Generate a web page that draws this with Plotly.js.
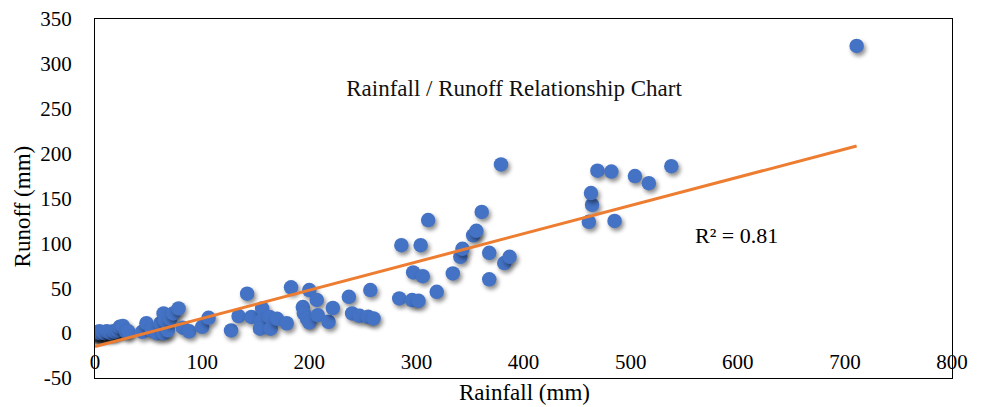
<!DOCTYPE html>
<html>
<head>
<meta charset="utf-8">
<script src="https://cdn.plot.ly/plotly-3.0.1.min.js"></script>
<style>
  html, body { margin: 0; padding: 0; background: #fff; }
  #chart { width: 984px; height: 407px; }
  #chart text { font-family: 'Liberation Serif', 'Times New Roman', serif !important; }
  #chart .scatterlayer .trace:first-child path.point {
    filter: drop-shadow(2px 3px 2px rgba(0,0,0,0.45));
  }
</style>
</head>
<body>
<div id="chart"></div>
<script>
const rainfall = [
  0, 1, 2, 3, 4, 5, 7, 9, 11, 13, 15, 17, 19, 21, 23, 26, 29, 31,
  44, 48, 53, 58, 61, 64, 64, 65, 68, 70, 73, 78, 82, 88,
  100, 106, 127, 134, 142, 146, 156, 155, 154, 163, 164, 170, 179, 183,
  194, 195, 198, 200, 200, 207, 208, 218, 222, 237, 240, 247, 255, 260, 257,
  284, 286, 296, 297, 302, 304, 306, 311, 319, 334, 341, 343, 353, 356, 361, 368, 368, 379, 382, 387,
  461, 464, 463, 469, 482, 485, 504, 517, 538, 711
];
const runoff = [
  0, -1, 1, 0, 2, 0, 1, 0, 2, 1, 0, 2, 1.5, 3, 7, 8, 1.5, 2,
  1.5, 11, 3, 0, 11, 0, 22, 14.5, 3, 16, 22, 27.5, 6, 2,
  7, 17, 3, 19, 44, 18, 27.5, 13.5, 5, 18, 5, 16, 11, 51,
  29, 22, 16, 48, 12, 37, 20, 12.6, 28, 40.5, 22, 19.3, 18.2, 16.4, 48,
  38.6, 98, 36.8, 67.6, 36, 98, 63.5, 126, 46, 66.5, 85, 94, 109, 114, 135, 89.5, 60, 188, 78, 85,
  124, 143, 156, 181, 180, 125, 175, 167, 186, 320
];
// Linear trendline endpoints
const trendX = [0, 711];
const trendY = [-15, 208.5];
const xTicks = [0, 100, 200, 300, 400, 500, 600, 700, 800];
const yTicks = [-50, 0, 50, 100, 150, 200, 250, 300, 350];

const serif = 'Times New Roman';

const traces = [
  {
    x: rainfall, y: runoff, type: 'scatter', mode: 'markers',
    marker: { color: '#4472C4', size: 14.5 },
    showlegend: false, hoverinfo: 'x+y'
  },
  {
    x: trendX, y: trendY, type: 'scatter', mode: 'lines',
    line: { color: '#ED7D31', width: 3 },
    showlegend: false, hoverinfo: 'skip'
  }
];

const layout = {
  width: 984, height: 407,
  margin: { l: 95, r: 32, t: 19, b: 29 },
  paper_bgcolor: '#ffffff', plot_bgcolor: '#ffffff',
  showlegend: false,
  font: { family: serif, color: '#000000', size: 21 },
  title: {
    text: 'Rainfall / Runoff Relationship Chart',
    font: { family: serif, size: 23, color: '#111111' },
    xref: 'container', yref: 'container',
    x: 514 / 984, y: 1 - 88 / 407, xanchor: 'center', yanchor: 'middle'
  },
  xaxis: {
    range: [0, 800], tickvals: xTicks, ticktext: xTicks.map(String),
    showgrid: false, zeroline: false,
    showline: true, mirror: true, linecolor: '#000000', linewidth: 1,
    ticks: '', ticklabelposition: 'inside', ticklabeloverflow: 'allow',
    ticklabelstandoff: 6,
    tickfont: { family: serif, size: 21, color: '#000000' },
    automargin: false
  },
  yaxis: {
    range: [-50, 350], tickvals: yTicks, ticktext: yTicks.map(String),
    showgrid: false, zeroline: false,
    showline: true, mirror: true, linecolor: '#000000', linewidth: 1,
    ticks: '', ticklabelstandoff: 18,
    tickfont: { family: serif, size: 21, color: '#000000' },
    automargin: false
  },
  annotations: [
    {
      text: 'R² = 0.81', x: 599, y: 109, xref: 'x', yref: 'y',
      showarrow: false, xanchor: 'center', yanchor: 'middle',
      font: { family: serif, size: 22, color: '#000000' }
    },
    {
      text: 'Rainfall (mm)', xref: 'paper', yref: 'paper',
      x: 0.5006, y: -0.041, xanchor: 'center', yanchor: 'middle',
      showarrow: false, borderpad: 0, font: { family: serif, size: 23, color: '#000000' }
    },
    {
      text: 'Runoff (mm)', xref: 'paper', yref: 'paper', textangle: -90,
      x: -0.0852, y: 0.478, xanchor: 'center', yanchor: 'middle',
      showarrow: false, font: { family: serif, size: 23, color: '#000000' }
    }
  ]
};

Plotly.newPlot('chart', traces, layout, { displayModeBar: false, staticPlot: true });
</script>
</body>
</html>
